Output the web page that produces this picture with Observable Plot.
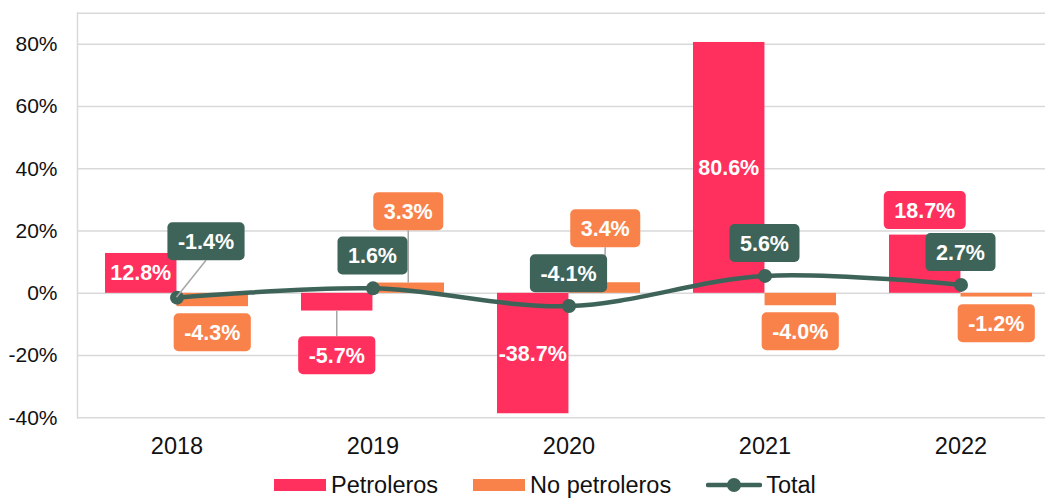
<!DOCTYPE html>
<html>
<head>
<meta charset="utf-8">
<script src="https://cdn.jsdelivr.net/npm/d3@7"></script>
<script src="https://cdn.jsdelivr.net/npm/@observablehq/plot@0.6"></script>
<style>
html, body { margin: 0; padding: 0; background: #fff; overflow: hidden; }
body { width: 1045px; height: 499px; position: relative; font-family: "Liberation Sans", Arial, sans-serif; }
#chart svg { display: block; overflow: visible; }
#legend { position: absolute; left: 274px; top: 473px; height: 24px; display: flex; align-items: center;
  font-size: 23.5px; line-height: 24px; color: #111; white-space: nowrap; }
#legend .item { display: flex; align-items: center; margin-right: 35px; }
#legend .sw { width: 52px; height: 12px; margin-right: 5px; }
</style>
</head>
<body>
<div id="chart"></div>
<div id="legend"></div>
<script>
// ---- data ----
const years = ["2018", "2019", "2020", "2021", "2022"];
const petroleros = [12.8, -5.7, -38.7, 80.6, 18.7];
const noPetroleros = [-4.3, 3.3, 3.4, -4.0, -1.2];
const total = [-1.4, 1.6, -4.1, 5.6, 2.7];
const yTicks = [-40, -20, 0, 20, 40, 60, 80];
const seriesNames = ["Petroleros", "No petroleros", "Total"];

// ---- styling / layout ----
const colors = { pet: "#ff305e", nopet: "#f9824b", total: "#3e6459" };
const petLabelLayout = [{inside: true}, {dy: 44.6, leader: true}, {inside: true}, {inside: true}, {dy: -24.5}];
const noPetLabelLayout = [{dy: 26}, {dy: -71.4, leader: true}, {dy: -54, dx: 1, leader: true}, {dy: 26}, {dy: 26.6}];
const totalLabelLayout = [{dx: 29.5, dy: -56, leader: true}, {dy: -32.3}, {dy: -32.3}, {dy: -32.3}, {dy: -32.3}];

const W = 1045, H = 468;
const xRange = [77, 1060];
const padIn = 0.272, padOut = 0.136;
const step = (xRange[1] - xRange[0]) / (years.length - padIn + 2 * padOut);
const bw = step * (1 - padIn);

const petData = years.map((year, i) => ({year, value: petroleros[i]}));
const noPetData = years.map((year, i) => ({year, value: noPetroleros[i]}));
const totalData = years.map((year, i) => ({year, value: total[i]}));

const chart = Plot.plot({
  width: W,
  height: H,
  marginLeft: 77,
  marginRight: 0,
  marginTop: 12.7,
  marginBottom: H - 417.3,
  style: { fontFamily: '"Liberation Sans", Arial, sans-serif', background: "#fff", color: "#111" },
  x: { type: "band", domain: years, range: xRange, paddingInner: padIn, paddingOuter: padOut, align: 0.5 },
  y: { domain: [-40, 90] },
  marks: [
    Plot.gridY([...yTicks, 90], { stroke: "#d9d9d9", strokeOpacity: 1, strokeWidth: 1.5 }),
    Plot.frame({ anchor: "left", stroke: "#d9d9d9", strokeWidth: 1.5 }),
    Plot.barY(petData, { x: "year", y: "value", fill: colors.pet, insetRight: bw / 2 }),
    Plot.barY(noPetData, { x: "year", y: "value", fill: colors.nopet, insetLeft: bw / 2 }),
    Plot.line(totalData, { x: "year", y: "value", stroke: colors.total, strokeWidth: 4.5, curve: "catmull-rom" }),
    Plot.dot(totalData, { x: "year", y: "value", r: 7, fill: colors.total }),
    Plot.axisY(yTicks, { tickSize: 0, tickPadding: 20, tickFormat: d => d + "%", fontSize: 21, label: null }),
    Plot.axisX({ tickSize: 0, tickPadding: 20, fontSize: 23.5, label: null })
  ]
});

document.getElementById("chart").append(chart);

// ---- data labels, placed through Plot's scales ----
const xs = chart.scale("x"), ys = chart.scale("y");
const bandCenter = yr => xs.apply(yr) + xs.bandwidth / 2;
const Y = v => ys.apply(v);
const svg = d3.select(chart);
const gLead = svg.append("g");
const gLab = svg.append("g").attr("font-family", '"Liberation Sans", Arial, sans-serif')
  .attr("font-weight", "bold").attr("font-size", 21.5);
const fmt = v => v.toFixed(1) + "%";
const BOX_H = 38;

function addLabels(values, layout, xOff, color) {
  values.forEach((v, i) => {
    const L = layout[i];
    const ax = bandCenter(years[i]) + xOff;
    const ay = Y(v);
    if (L.inside) {
      gLab.append("text").attr("x", ax).attr("y", Y(v / 2)).attr("dy", "0.35em")
        .attr("text-anchor", "middle").attr("fill", "#fff").text(fmt(v));
      return;
    }
    const bx = ax + (L.dx || 0), by = ay + L.dy;
    if (L.leader) {
      const sign = ay > by ? 1 : -1;
      gLead.append("line").attr("x1", bx).attr("y1", by + sign * BOX_H / 2)
        .attr("x2", ax).attr("y2", ay).attr("stroke", "#a6a6a6").attr("stroke-width", 1.5);
    }
    const g = gLab.append("g");
    const rect = g.append("rect");
    const t = g.append("text").attr("x", bx).attr("y", by).attr("dy", "0.35em")
      .attr("text-anchor", "middle").attr("fill", "#fff").text(fmt(v));
    const tw = t.node().getComputedTextLength();
    const w = tw + 21;
    rect.attr("x", bx - w / 2).attr("y", by - BOX_H / 2).attr("width", w).attr("height", BOX_H)
      .attr("rx", 5).attr("fill", color);
  });
}
const q = xs.bandwidth / 4;
addLabels(petroleros, petLabelLayout, -q, colors.pet);
addLabels(noPetroleros, noPetLabelLayout, q, colors.nopet);
addLabels(total, totalLabelLayout, 0, colors.total);

// ---- legend ----
const legend = d3.select("#legend");
const legendColors = [colors.pet, colors.nopet, colors.total];
seriesNames.forEach((name, i) => {
  const item = legend.append("div").attr("class", "item");
  if (i < 2) {
    item.append("div").attr("class", "sw").style("background", legendColors[i]);
  } else {
    const s = item.append("svg").attr("width", 56).attr("height", 16).style("margin-right", "4px");
    s.append("line").attr("x1", 2).attr("x2", 54).attr("y1", 8).attr("y2", 8)
      .attr("stroke", legendColors[i]).attr("stroke-width", 4.5).attr("stroke-linecap", "round");
    s.append("circle").attr("cx", 28).attr("cy", 8).attr("r", 7).attr("fill", legendColors[i]);
  }
  item.append("span").text(name);
});
</script>
</body>
</html>
